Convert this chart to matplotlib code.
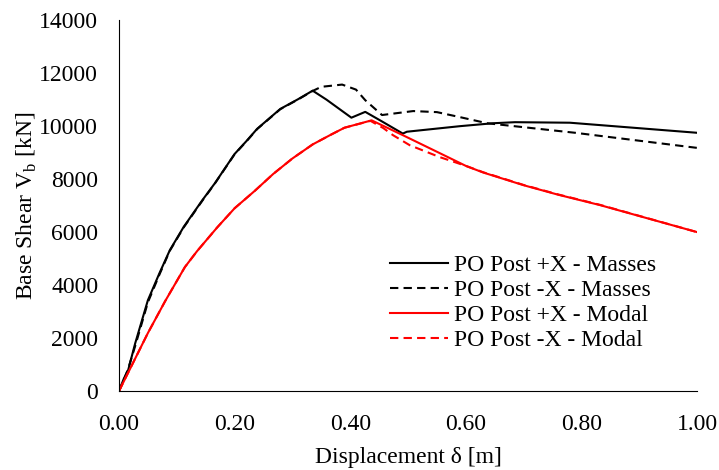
import matplotlib.pyplot as plt

plt.rcParams['font.family'] = ['Liberation Serif', 'DejaVu Serif']
plt.rcParams['mathtext.fontset'] = 'custom'
plt.rcParams['mathtext.rm'] = 'Liberation Serif'

# PO Post +X - Masses
x_pm = [0.0, 0.008, 0.016, 0.028, 0.05, 0.07, 0.088, 0.112, 0.144, 0.166, 0.2, 0.221,
        0.239, 0.279, 0.31, 0.335, 0.359, 0.402, 0.426, 0.454, 0.491, 0.498, 0.59,
        0.647, 0.685, 0.78, 1.0]
y_pm = [0, 450, 800, 1800, 3430, 4450, 5320, 6200, 7200, 7850, 8950, 9450,
        9900, 10650, 11020, 11340, 11000, 10320, 10540, 10190, 9720, 9790, 10000,
        10110, 10150, 10130, 9750]

# PO Post -X - Masses
x_nm = [0.0, 0.008, 0.016, 0.028, 0.05, 0.07, 0.088, 0.112, 0.144, 0.166, 0.2, 0.221,
        0.239, 0.279, 0.31, 0.335, 0.35, 0.386, 0.41, 0.426, 0.455, 0.509, 0.55,
        0.59, 0.637, 0.789, 1.0]
y_nm = [0, 400, 850, 1700, 3350, 4400, 5300, 6180, 7180, 7840, 8940, 9440,
        9890, 10640, 11010, 11330, 11485, 11570, 11380, 10980, 10420, 10570, 10530,
        10340, 10110, 9750, 9180]

# PO Post +X - Modal
x_pd = [0.0, 0.05, 0.08, 0.114, 0.135, 0.17, 0.2, 0.235, 0.267, 0.3, 0.335, 0.365,
        0.39, 0.437, 0.491, 0.555, 0.6, 0.63, 0.7, 0.76, 0.832, 1.0]
y_pd = [0, 2190, 3400, 4680, 5280, 6180, 6900, 7560, 8200, 8780, 9310, 9660,
        9940, 10220, 9660, 8980, 8500, 8250, 7770, 7410, 7020, 6000]

# PO Post -X - Modal
x_nd = [0.0, 0.05, 0.08, 0.114, 0.135, 0.17, 0.2, 0.235, 0.267, 0.3, 0.335, 0.365,
        0.39, 0.435, 0.457, 0.474, 0.503, 0.555, 0.573, 0.6, 0.63, 0.7, 0.76,
        0.832, 1.0]
y_nd = [0, 2190, 3400, 4680, 5280, 6180, 6900, 7560, 8200, 8780, 9310, 9660,
        9940, 10200, 9930, 9660, 9280, 8830, 8700, 8500, 8260, 7780, 7420,
        7030, 6000]

fig = plt.figure(figsize=(7.19, 4.70), dpi=100)
ax = fig.add_axes([0.1655, 0.168, 0.804, 0.789])

ax.plot(x_pm, y_pm, color='black', lw=1.5, label='PO Post +X - Masses')
ax.plot(x_nm, y_nm, color='black', lw=1.5, ls=(0, (4, 2.5)), label='PO Post -X - Masses')
ax.plot(x_pd, y_pd, color='red', lw=1.5, label='PO Post +X - Modal')
ax.plot(x_nd, y_nd, color='red', lw=1.5, ls=(0, (4, 2.5)), label='PO Post -X - Modal')

ax.set_xlim(0, 1.0)
ax.set_ylim(0, 14000)
ax.set_xticks([0, 0.2, 0.4, 0.6, 0.8, 1.0])
ax.set_xticklabels(['0.00', '0.20', '0.40', '0.60', '0.80', '1.00'])
ax.set_yticks(range(0, 14001, 2000))
ax.tick_params(length=0, labelsize=17)
ax.tick_params(axis='x', pad=16.5)
ax.tick_params(axis='y', pad=15)
for s in ['top', 'right']:
    ax.spines[s].set_visible(False)

ax.set_xlabel('Displacement δ [m]', fontsize=17, labelpad=9)
ax.set_ylabel(r'Base Shear V$_\mathregular{b}$ [kN]', fontsize=17, labelpad=0)

ax.legend(loc='center left', bbox_to_anchor=(0.469, 0.238), frameon=False, fontsize=17,
          handlelength=2.46, handletextpad=0.25, labelspacing=0.15,
          borderpad=0, borderaxespad=0)

fig.savefig('out.png', dpi=100)
